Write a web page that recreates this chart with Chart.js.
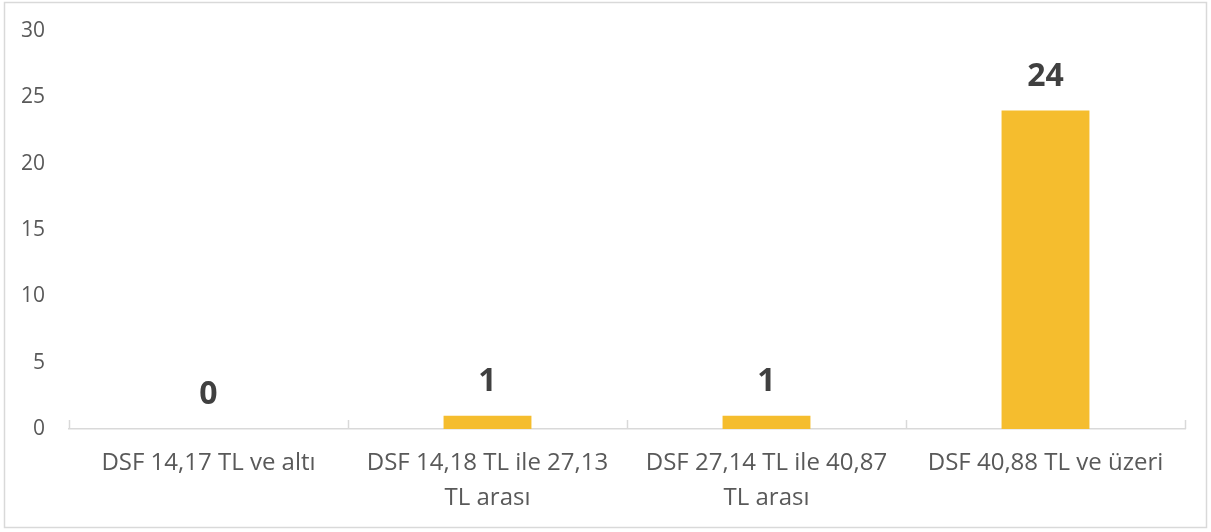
<!DOCTYPE html>
<html>
<head>
<meta charset="utf-8">
<style>
  html, body { margin: 0; padding: 0; background: #fff; }
  #wrap { width: 1211px; height: 532px; }
</style>
<script src="https://cdn.jsdelivr.net/npm/chart.js@4.4.1/dist/chart.umd.min.js"></script>
</head>
<body>
<div id="wrap"><canvas id="chart"></canvas></div>
<script>
const categories = [
    ["DSF 14,17 TL ve altı"],
    ["DSF 14,18 TL ile 27,13", "TL arası"],
    ["DSF 27,14 TL ile 40,87", "TL arası"],
    ["DSF 40,88 TL ve üzeri"]
];
const counts = [0, 1, 1, 24];
const yTicks = [0, 5, 10, 15, 20, 25, 30];

const textColor = "#595959";
const lineColor = "#d9d9d9";

// frame, tick marks between categories, and value labels above bars
const decorations = {
    id: "decorations",
    beforeDraw(chart) {
        const ctx = chart.ctx;
        ctx.save();
        ctx.strokeStyle = lineColor;
        ctx.lineWidth = 1.5;
        ctx.strokeRect(4.5, 2.5, 1202, 525);
        ctx.restore();
    },
    afterDraw(chart) {
        const ctx = chart.ctx;
        const x = chart.scales.x;
        const y = chart.scales.y;
        const base = y.getPixelForValue(0);
        const step = x.width / categories.length;
        ctx.save();
        ctx.strokeStyle = lineColor;
        ctx.lineWidth = 1.5;
        for (let i = 0; i <= categories.length; i++) {
            const px = Math.round(x.left + i * step) + 0.5;
            ctx.beginPath();
            ctx.moveTo(px, base - 9);
            ctx.lineTo(px, base);
            ctx.stroke();
        }
        ctx.fillStyle = "#404040";
        ctx.font = "bold 32px 'Open Sans'";
        ctx.textAlign = "center";
        ctx.textBaseline = "middle";
        chart.getDatasetMeta(0).data.forEach((bar, i) => {
            ctx.fillText(String(counts[i]), bar.x, bar.y - 34);
        });
        ctx.restore();
    }
};

new Chart(document.getElementById("chart"), {
    type: "bar",
    data: {
        labels: categories,
        datasets: [{
            data: counts,
            backgroundColor: "#F5BD2E",
            categoryPercentage: 1,
            barPercentage: 0.315
        }]
    },
    options: {
        responsive: true,
        maintainAspectRatio: false,
        animation: false,
        layout: { padding: { left: 5, right: 26, top: 31, bottom: 5 } },
        plugins: {
            legend: { display: false },
            tooltip: { enabled: false }
        },
        scales: {
            x: {
                grid: { display: false, drawTicks: false },
                border: { display: true, color: lineColor, width: 1.5 },
                ticks: {
                    color: textColor,
                    font: { family: "'Open Sans'", size: 24, lineHeight: 1.45 },
                    padding: 17,
                    maxRotation: 0,
                    autoSkip: false
                },
                afterFit(scale) { scale.height = 98; }
            },
            y: {
                min: 0,
                max: 30,
                grid: { display: false, drawTicks: false },
                border: { display: false },
                afterBuildTicks(scale) {
                    scale.ticks = yTicks.map(v => ({ value: v }));
                },
                ticks: {
                    color: textColor,
                    font: { family: "'Open Sans'", size: 21 },
                    padding: 24
                },
                afterFit(scale) {
                    scale.width = 64;
                    scale.paddingTop = 0;
                    scale.paddingBottom = 0;
                }
            }
        }
    },
    plugins: [decorations]
});
</script>
</body>
</html>
